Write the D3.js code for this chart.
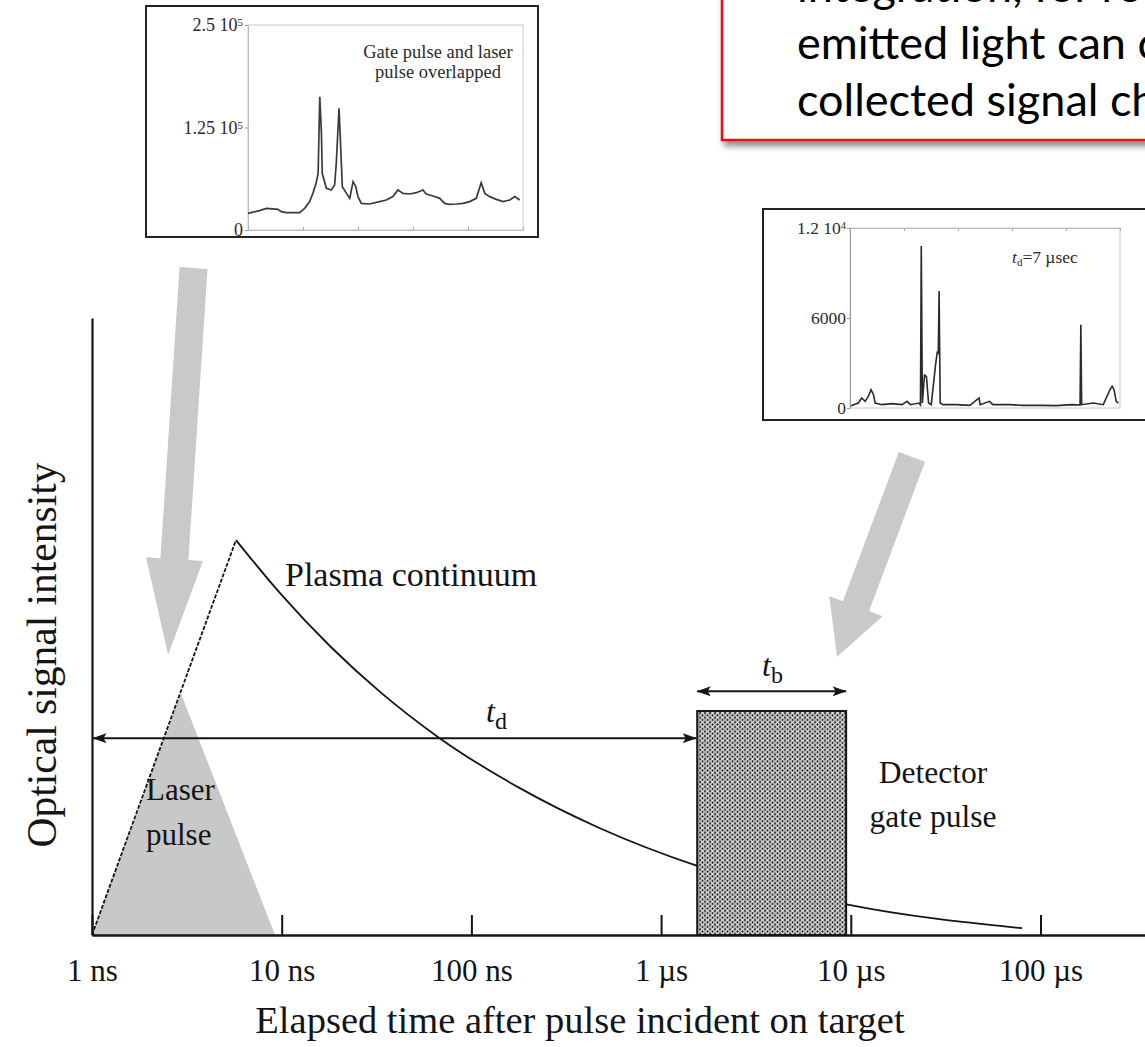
<!DOCTYPE html>
<html>
<head>
<meta charset="utf-8">
<script src="https://cdn.jsdelivr.net/npm/d3@7"></script>
<style>
  html, body { margin: 0; padding: 0; background: #fff; }
  svg { display: block; }
</style>
</head>
<body>
<svg id="chart" width="1145" height="1047"></svg>
<script>
// ---------------- data ----------------
// time axis (ns) and its labels
const tickTimes  = [1, 10, 100, 1000, 10000, 100000];
const tickLabels = ["1 ns", "10 ns", "100 ns", "1 µs", "10 µs", "100 µs"];

// plasma continuum: linear rise, then decay (relative intensity 0..100)
const plasmaRiseTime   = [1, 5.74];
const plasmaRiseLevel  = [0, 64];
const plasmaDecayTime  = [5.74, 9.8, 18, 33, 68, 180, 476, 1550, 9800, 80000];
const plasmaDecayLevel = [64, 55.4, 46.8, 39.4, 31.9, 23.8, 17.3, 11.2, 4.9, 1.1];

// laser pulse (shaded triangle)
const laserTime  = [1, 2.94, 9.22];
const laserLevel = [0, 39.2, 0];

// detector gate and the delay / width markers
const gateStart = 1550, gateEnd = 9450, gateLevel = 36.3;
const delayLevel = 31.9, widthLevel = 39.5;

// spectrum with gate and laser pulse overlapped (counts in thousands)
const overlapChannel = [0, 4.2, 6.7, 10.9, 12.1, 13.9, 18.8, 20.6, 22.4, 23.6, 24.8, 25.5, 26.1, 26.7, 27.0,
  28.5, 30.3, 31.5, 32.1, 33.1, 33.7, 34.3, 35.8, 37.0, 38.2, 39.2, 40.0, 41.2, 44.2, 47.9, 50.3, 52.7,
  54.5, 56.4, 58.8, 61.2, 63.6, 64.8, 67.3, 69.7, 71.5, 73.3, 75.8, 78.2, 80.6, 83.0, 84.8, 86.1, 87.9,
  90.3, 92.7, 95.2, 97.0, 98.8];
const overlapCounts = [20.3, 23.6, 26.4, 25.2, 22.4, 21.1, 21.1, 26.4, 34.6, 44.7, 57.7, 69.1, 162.6, 117.9, 69.1,
  50.8, 48.8, 54.9, 81.3, 148.4, 101.6, 52.8, 44.7, 38.6, 58.9, 52.8, 40.7, 32.5, 31.7, 34.6, 36.6, 40.7,
  48.8, 44.7, 43.9, 45.5, 48.8, 43.9, 41.5, 38.6, 32.5, 31.3, 31.7, 32.5, 34.6, 38.6, 57.7, 44.7, 40.7,
  37.4, 34.6, 36.6, 40.7, 36.6];
const overlapTicks = [0, 125, 250];

// spectrum recorded with a 7 µs delay (counts)
const delayedChannel = [0.4, 3.1, 4.3, 5.6, 6.8, 7.8, 8.7, 9.3, 11.8, 15.5, 19.3, 21.1, 22.4, 25.5, 26.1, 26.4,
  26.8, 27.6, 28.3, 29.1, 30.1, 31.7, 32.3, 32.7, 33.0, 33.4, 34.4, 39.4, 44.4, 47.8, 48.2, 51.7, 52.9,
  59.1, 64.1, 70.3, 76.4, 82.0, 85.2, 85.5, 85.8, 90.1, 93.8, 96.3, 97.1, 97.8, 98.6, 99.4];
const delayedCounts = [156, 333, 667, 444, 778, 1222, 889, 333, 222, 289, 222, 444, 222, 333, 200, 10800,
  333, 2200, 2100, 333, 222, 2900, 3700, 3650, 7800, 333, 222, 222, 178, 667, 222, 444, 222,
  222, 178, 178, 156, 222, 200, 5550, 222, 333, 222, 1222, 1444, 1222, 444, 333];
const delayedTicks = [0, 6000, 12000];

// note text (runs past the right edge)
const noteLines = ["integration, for re", "emitted light can c", "collected signal ch"];

// ---------------- drawing ----------------
const svg = d3.select("#chart");
const SERIF = "'Liberation Serif', 'Times New Roman', Times, serif";
const INK = "#141414";

const x = d3.scaleLog().domain([1, 1e6]).range([92, 92 + 6 * 189.7]);
const y = d3.scaleLinear().domain([0, 100]).range([935, 318]);

const defs = svg.append("defs");

// dotted fill of the gate pulse
const pat = defs.append("pattern").attr("id", "gateDots")
  .attr("patternUnits", "userSpaceOnUse").attr("width", 5).attr("height", 4.6);
pat.append("rect").attr("width", 5).attr("height", 4.6).attr("fill", "#3c3c3c");
pat.append("circle").attr("cx", 2.5).attr("cy", 2.3).attr("r", 1.7)
  .attr("fill", "#050505").attr("stroke", "#ffffff").attr("stroke-width", 1.2);

// arrowhead for dimension lines
defs.append("marker").attr("id", "head")
  .attr("viewBox", "0 0 14 10").attr("refX", 13.5).attr("refY", 5)
  .attr("markerWidth", 14).attr("markerHeight", 10)
  .attr("markerUnits", "userSpaceOnUse").attr("orient", "auto-start-reverse")
  .append("path").attr("d", "M0,0 L14,5 L0,10 L3,5 Z").attr("fill", INK);

// soft shadow under the note box
const shadow = defs.append("filter").attr("id", "boxShadow")
  .attr("x", "-10%").attr("y", "-20%").attr("width", "130%").attr("height", "150%");
shadow.append("feDropShadow").attr("dx", 3).attr("dy", 5)
  .attr("stdDeviation", 3).attr("flood-color", "#000").attr("flood-opacity", 0.45);

// ---- note box ----
const note = svg.append("g");
note.append("rect").attr("x", 722).attr("y", -30).attr("width", 460).attr("height", 170)
  .attr("fill", "#fff").attr("stroke", "#ee1111").attr("stroke-width", 2.5)
  .attr("filter", "url(#boxShadow)");
note.selectAll("text.note").data(noteLines).join("text")
  .attr("class", "note")
  .attr("x", 797).attr("y", (d, i) => 2 + i * 57)
  .attr("font-family", "Lato, 'Open Sans', sans-serif")
  .attr("font-size", 45).attr("fill", "#000")
  .text(d => d);

// ---- helper to write "a 10^b" style labels ----
function sciLabel(sel, mant, exp) {
  sel.text(null);
  sel.append("tspan").text(mant);
  if (exp !== null) {
    sel.append("tspan").attr("dy", "-0.45em").attr("font-size", "0.6em").text(exp);
  }
}

// ---- inset 1: overlapped gate and laser pulse ----
const in1 = svg.append("g");
in1.append("rect").attr("x", 146).attr("y", 6).attr("width", 392).attr("height", 231)
  .attr("fill", "#fff").attr("stroke", "#222").attr("stroke-width", 2);
const x1 = d3.scaleLinear().domain([0, 100]).range([248, 523]);
const y1 = d3.scaleLinear().domain([0, 250]).range([230, 25]);
in1.append("rect").attr("x", x1(0)).attr("y", y1(250)).attr("width", x1(100) - x1(0)).attr("height", y1(0) - y1(250))
  .attr("fill", "none").attr("stroke", "#c9c9c9").attr("stroke-width", 1);
const ax1 = in1.append("g").attr("transform", `translate(${x1(0)},0)`)
  .call(d3.axisLeft(y1).tickValues(overlapTicks).tickSize(3).tickSizeOuter(0));
ax1.select(".domain").attr("stroke", "#bbb");
ax1.selectAll(".tick line").attr("stroke", "#999");
ax1.selectAll(".tick text").attr("font-family", SERIF).attr("font-size", 18).attr("fill", "#2a2a2a")
  .attr("x", -5)
  .each(function (d) {
    const t = d3.select(this);
    if (d === 0) sciLabel(t, "0", null);
    else if (d === 125) sciLabel(t, "1.25 10", "5");
    else sciLabel(t, "2.5 10", "5");
  });
const bx1 = in1.append("g").attr("transform", `translate(0,${y1(0)})`)
  .call(d3.axisBottom(x1).tickValues([0, 20, 40, 60, 80, 100]).tickSize(-3).tickFormat(""));
bx1.select(".domain").attr("stroke", "#bbb");
bx1.selectAll(".tick line").attr("stroke", "#aaa");
in1.append("path")
  .datum(overlapChannel.map((c, i) => [c, overlapCounts[i]]))
  .attr("d", d3.line().x(d => x1(d[0])).y(d => y1(d[1])))
  .attr("fill", "none").attr("stroke", "#3a3a3a").attr("stroke-width", 1.7);
in1.append("text").attr("x", 438).attr("y", 58).attr("text-anchor", "middle")
  .attr("font-family", SERIF).attr("font-size", 18.5).attr("fill", "#2a2a2a")
  .text("Gate pulse and laser");
in1.append("text").attr("x", 438).attr("y", 78).attr("text-anchor", "middle")
  .attr("font-family", SERIF).attr("font-size", 18.5).attr("fill", "#2a2a2a")
  .text("pulse overlapped");

// ---- inset 2: spectrum after a 7 µs delay ----
const in2 = svg.append("g");
in2.append("rect").attr("x", 763).attr("y", 209).attr("width", 420).attr("height", 211)
  .attr("fill", "#fff").attr("stroke", "#222").attr("stroke-width", 2);
const x2 = d3.scaleLinear().domain([0, 100]).range([850, 1120]);
const y2 = d3.scaleLinear().domain([0, 12000]).range([408, 228]);
in2.append("rect").attr("x", x2(0)).attr("y", y2(12000)).attr("width", x2(100) - x2(0)).attr("height", y2(0) - y2(12000))
  .attr("fill", "none").attr("stroke", "#c9c9c9").attr("stroke-width", 1);
const ax2 = in2.append("g").attr("transform", `translate(${x2(0)},0)`)
  .call(d3.axisLeft(y2).tickValues(delayedTicks).tickSize(3).tickSizeOuter(0));
ax2.select(".domain").attr("stroke", "#999");
ax2.selectAll(".tick line").attr("stroke", "#999");
ax2.selectAll(".tick text").attr("font-family", SERIF).attr("font-size", 17.5).attr("fill", "#2a2a2a")
  .attr("x", -4)
  .each(function (d) {
    const t = d3.select(this);
    if (d === 12000) sciLabel(t, "1.2 10", "4");
    else sciLabel(t, d3.format("d")(d), null);
  });
const tx2 = in2.append("g").attr("transform", `translate(0,${y2(12000)})`)
  .call(d3.axisBottom(x2).tickValues([0, 20, 40, 60, 80, 100]).tickSize(3).tickFormat(""));
tx2.select(".domain").attr("stroke", "#bbb");
tx2.selectAll(".tick line").attr("stroke", "#aaa");
in2.append("path")
  .datum(delayedChannel.map((c, i) => [c, delayedCounts[i]]))
  .attr("d", d3.line().x(d => x2(d[0])).y(d => y2(d[1])))
  .attr("fill", "none").attr("stroke", "#2a2a2a").attr("stroke-width", 1.6);
const tdLab = in2.append("text").attr("x", 1012).attr("y", 263)
  .attr("font-family", SERIF).attr("font-size", 17.5).attr("fill", "#2a2a2a");
tdLab.append("tspan").attr("font-style", "italic").text("t");
tdLab.append("tspan").attr("font-size", 11).attr("dy", 3).text("d");
tdLab.append("tspan").attr("dy", -3).text("=7 µsec");

// ---- wide gray pointer arrows ----
function blockArrow(tail, tip, shaftW, headW, headLen) {
  const dx = tip[0] - tail[0], dy = tip[1] - tail[1];
  const L = Math.hypot(dx, dy), ux = dx / L, uy = dy / L, nx = -uy, ny = ux;
  const bx = tip[0] - ux * headLen, by = tip[1] - uy * headLen;
  const p = (px, py, s) => [px + nx * s, py + ny * s];
  return [p(tail[0], tail[1], shaftW / 2), p(bx, by, shaftW / 2), p(bx, by, headW / 2),
          tip, p(bx, by, -headW / 2), p(bx, by, -shaftW / 2), p(tail[0], tail[1], -shaftW / 2)];
}
const pointers = [
  { tail: [x(3.43), y(108.1)], tip: [x(2.52), y(45.4)], head: 96 },
  { tail: [x(21000), y(77.5)], tip: [x(8460), y(45.1)], head: 54 }
];
svg.append("g").selectAll("polygon").data(pointers).join("polygon")
  .attr("points", d => blockArrow(d.tail, d.tip, 28, 57, d.head).map(p => p.join(",")).join(" "))
  .attr("fill", "#c9c9c9");

// ---- laser pulse ----
svg.append("path")
  .datum(laserTime.map((t, i) => [t, laserLevel[i]]))
  .attr("d", d3.area().x(d => x(d[0])).y0(y(0)).y1(d => y(d[1])))
  .attr("fill", "#c8c8c8");

// ---- plasma continuum ----
svg.append("path")
  .datum(plasmaRiseTime.map((t, i) => [t, plasmaRiseLevel[i]]))
  .attr("d", d3.line().x(d => x(d[0])).y(d => y(d[1])))
  .attr("fill", "none").attr("stroke", INK).attr("stroke-width", 1.8)
  .attr("stroke-dasharray", "4,1.6");
svg.append("path")
  .datum(plasmaDecayTime.map((t, i) => [t, plasmaDecayLevel[i]]))
  .attr("d", d3.line().curve(d3.curveMonotoneX).x(d => x(d[0])).y(d => y(d[1])))
  .attr("fill", "none").attr("stroke", INK).attr("stroke-width", 1.8);

// ---- detector gate pulse ----
svg.append("rect")
  .attr("x", x(gateStart)).attr("y", y(gateLevel))
  .attr("width", x(gateEnd) - x(gateStart)).attr("height", y(0) - y(gateLevel))
  .attr("fill", "url(#gateDots)").attr("stroke", INK).attr("stroke-width", 2);

// ---- axes ----
svg.append("g").attr("transform", `translate(${x(1)},0)`)
  .call(d3.axisLeft(y).tickValues([]).tickSizeOuter(0))
  .select(".domain").attr("stroke", INK).attr("stroke-width", 2.2);

const xAxis = svg.append("g").attr("transform", `translate(0,${y(0)})`)
  .call(d3.axisBottom(x).tickValues(tickTimes).tickSize(-20).tickSizeOuter(0).tickPadding(24)
    .tickFormat(d => tickLabels[tickTimes.indexOf(d)]));
xAxis.select(".domain").attr("stroke", INK).attr("stroke-width", 2.6);
xAxis.selectAll(".tick line").attr("stroke", INK).attr("stroke-width", 2);
xAxis.selectAll(".tick text").attr("font-family", SERIF).attr("font-size", 31).attr("fill", INK);

// ---- delay and gate width markers ----
svg.append("line")
  .attr("x1", x(1) + 1).attr("x2", x(gateStart) - 1)
  .attr("y1", y(delayLevel)).attr("y2", y(delayLevel))
  .attr("stroke", INK).attr("stroke-width", 2)
  .attr("marker-start", "url(#head)").attr("marker-end", "url(#head)");
svg.append("line")
  .attr("x1", x(gateStart)).attr("x2", x(gateEnd))
  .attr("y1", y(widthLevel)).attr("y2", y(widthLevel))
  .attr("stroke", INK).attr("stroke-width", 2)
  .attr("marker-start", "url(#head)").attr("marker-end", "url(#head)");

function subLabel(px, py, sub) {
  const t = svg.append("text").attr("x", px).attr("y", py)
    .attr("font-family", SERIF).attr("font-size", 32).attr("fill", INK);
  t.append("tspan").attr("font-style", "italic").text("t");
  t.append("tspan").attr("font-size", 24).attr("dy", 7).text(sub);
}
subLabel(486, 722, "d");
subLabel(762, 676, "b");

// ---- text labels ----
function label(lines, px, py, anchor, size, lh) {
  const t = svg.append("text").attr("font-family", SERIF).attr("font-size", size)
    .attr("fill", INK).attr("text-anchor", anchor);
  lines.forEach((s, i) => t.append("tspan").attr("x", px).attr("y", py + i * lh).text(s));
}
label(["Plasma continuum"], 285, 586, "start", 34, 0);
label(["Laser", "pulse"], 146, 800, "start", 31, 45);
label(["Detector", "gate pulse"], 933, 783, "middle", 31.5, 44);

// axis titles
svg.append("text").attr("x", 580).attr("y", 1033).attr("text-anchor", "middle")
  .attr("font-family", SERIF).attr("font-size", 38.5).attr("fill", INK)
  .text("Elapsed time after pulse incident on target");
svg.append("text").attr("transform", "translate(56,655) rotate(-90)").attr("text-anchor", "middle")
  .attr("font-family", SERIF).attr("font-size", 41.5).attr("fill", INK)
  .text("Optical signal intensity");
</script>
</body>
</html>
